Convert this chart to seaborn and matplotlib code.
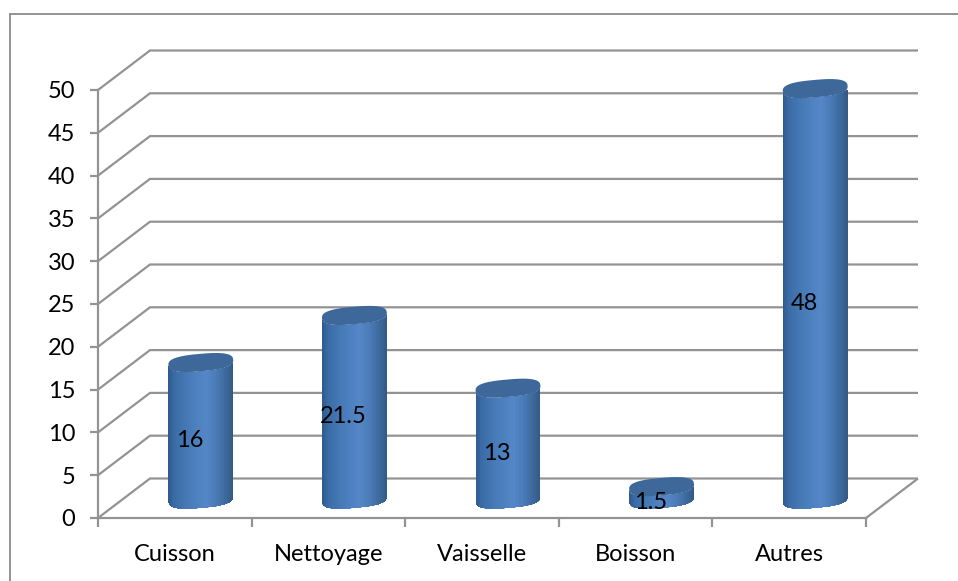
import numpy as np
import pandas as pd
import matplotlib
matplotlib.use("Agg")
import matplotlib.pyplot as plt
from matplotlib.colors import LinearSegmentedColormap
from matplotlib.lines import Line2D
from matplotlib.patches import Polygon
from matplotlib.path import Path
from matplotlib.transforms import Affine2D, IdentityTransform
import seaborn as sns

categories = ["Cuisson", "Nettoyage", "Vaisselle", "Boisson", "Autres"]
values = [16, 21.5, 13, 1.5, 48]
value_labels = ["16", "21.5", "13", "1.5", "48"]
y_ticks = list(range(0, 55, 5))

GREY = "#939393"
W, H = 958, 581

sns.set_theme(style="white")
plt.rcParams["font.family"] = ["Lato", "DejaVu Sans"]

fig = plt.figure(figsize=(W / 100, H / 100), dpi=100, facecolor="white")
ax = fig.add_axes([98 / W, (H - 518) / H, (866 - 98) / W, (518 - 90) / H])
ax.set_facecolor("none")

df = pd.DataFrame({"usage": categories, "part": values})
sns.barplot(data=df, x="usage", y="part", color="#4a7cb8", width=0.423,
            saturation=1, ax=ax, zorder=3)
ax.set_xlim(-0.5, 4.5)
ax.set_ylim(0, 50)
ax.set_xlabel("")
ax.set_ylabel("")

# Oblique projection: depth of the floor in pixels, cylinders stand half way in
DEPTH_X, DEPTH_Y = 52, 39.5
back = ax.transData + Affine2D().translate(DEPTH_X, DEPTH_Y)
mid = ax.transData + Affine2D().translate(DEPTH_X / 2, 18.5)

line_kw = dict(color=GREY, lw=1.6, solid_capstyle="butt", clip_on=False, zorder=1)
for v in y_ticks:
    # gridline on the back wall and its return along the side wall
    p0 = ax.transData.transform((-0.5, v))
    p1 = back.transform((-0.5, v))
    p2 = back.transform((4.5, v))
    xy = np.array([p0, p1, p2])
    ax.add_line(Line2D(xy[:, 0], xy[:, 1], transform=IdentityTransform(),
                       solid_joinstyle="miter", **line_kw))
# Right edge of the floor
p3 = ax.transData.transform((4.5, 0))
p4 = back.transform((4.5, 0))
ax.add_line(Line2D([p3[0], p4[0]], [p3[1], p4[1]],
                   transform=IdentityTransform(), **line_kw))

# Axes
sns.despine(ax=ax, top=True, right=True)
for side in ("left", "bottom"):
    ax.spines[side].set_color(GREY)
    ax.spines[side].set_linewidth(1.6)
    ax.spines[side].set_zorder(2)
ax.set_yticks(y_ticks)
ax.set_xticks(np.arange(-0.5, 5, 1))
ax.set_xticklabels([])
ax.set_xticks(range(len(categories)), labels=categories, minor=True)
ax.tick_params(axis="y", which="major", left=True, length=6, width=1.6, color=GREY,
               labelsize=17, pad=10.5, labelcolor="black")
ax.tick_params(axis="x", which="major", bottom=True, length=6.5, width=1.6, color=GREY)
ax.tick_params(axis="x", which="minor", bottom=False, length=0, labelsize=17,
               pad=19, labelcolor="black")

# Cylinder shading
side_cmap = LinearSegmentedColormap.from_list(
    "side",
    [(0.0, "#2f5a8e"), (0.08, "#3a6ba5"), (0.3, "#477ab7"), (0.58, "#5587c8"),
     (0.75, "#4a7ab6"), (0.92, "#3a6696"), (1.0, "#335a86")],
)

ANGLE = np.deg2rad(5)
RY = 8.7
ROUNDNESS = 0.74


def ellipse_points(cx, cy, rx, n=240):
    # Slightly squared ellipse, tilted by the viewing angle
    t = np.linspace(0, 2 * np.pi, n, endpoint=False)
    c, s = np.cos(t), np.sin(t)
    ex = rx * np.sign(c) * np.abs(c) ** ROUNDNESS
    ey = RY * np.sign(s) * np.abs(s) ** ROUNDNESS
    return np.column_stack([cx + ex * np.cos(ANGLE) - ey * np.sin(ANGLE),
                            cy + ex * np.sin(ANGLE) + ey * np.cos(ANGLE)])


def lower_arc(points):
    # Points of the outline below the chord, left extreme to right extreme
    i0, i1 = points[:, 0].argmin(), points[:, 0].argmax()
    rolled = np.roll(points, -i0, axis=0)
    k = (i1 - i0) % len(points)
    return rolled[: k + 1]


for bar in ax.patches:
    left, width, height = bar.get_x(), bar.get_width(), bar.get_height()
    (x_a, y_a), (x_b, y_b) = mid.transform([(left, 0), (left + width, height)])
    cx, rx = (x_a + x_b) / 2, (x_b - x_a) / 2
    base = ellipse_points(cx, y_a, rx)
    top = ellipse_points(cx, y_b, rx)
    outline = np.vstack([lower_arc(base), lower_arc(top)[::-1]])
    body = Path(np.vstack([outline, outline[:1]]), closed=True)

    bar.set_transform(mid)
    bar.set_edgecolor("none")
    bar.set_clip_path(body, IdentityTransform())

    cols = np.linspace(left, left + width, 81)
    shade = ax.pcolormesh(cols, [-3, height], np.linspace(0, 1, 80)[None, :],
                          cmap=side_cmap, shading="flat", transform=mid,
                          zorder=3.1, antialiased=False)
    shade.set_clip_path(body, IdentityTransform())

    lid = Polygon(top, closed=True, transform=IdentityTransform(),
                  facecolor="#3d6899", edgecolor="none", zorder=3.2, clip_on=False)
    ax.add_patch(lid)

# Value labels, pushed slightly off the centre of each column
for i, (v, txt) in enumerate(zip(values, value_labels)):
    ax.annotate(txt, xy=(i, v / 2), xytext=(15, 9), textcoords="offset pixels",
                ha="center", va="center", fontsize=17, color="black", zorder=5,
                annotation_clip=False)

ax.set_xlim(-0.5, 4.5)
ax.set_ylim(0, 50)

# Chart frame, open on the right and at the bottom
frame_kw = dict(color="#8a8a8a", lw=1.3, transform=fig.transFigure)
fig.add_artist(Line2D([10 / W, 10 / W], [0, (H - 14) / H], **frame_kw))
fig.add_artist(Line2D([10 / W, 1], [(H - 14) / H, (H - 14) / H], **frame_kw))

fig.savefig("out.png", dpi=100, facecolor="white")
